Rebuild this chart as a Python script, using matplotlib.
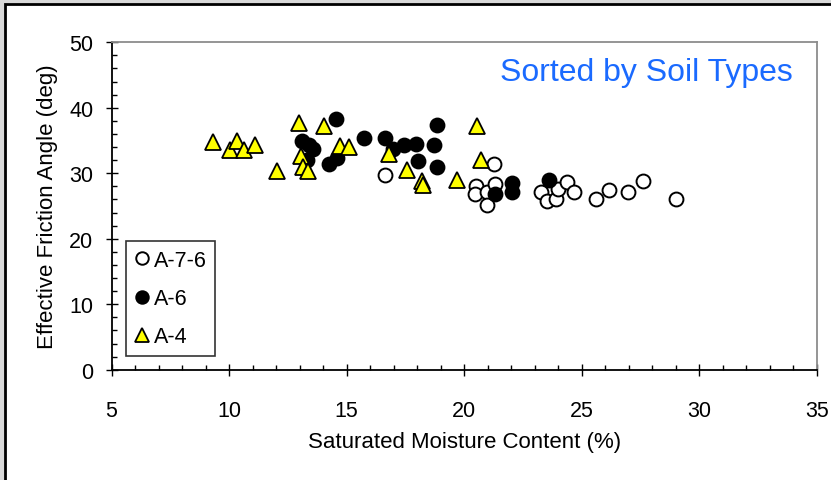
import matplotlib
matplotlib.use("Agg")
import matplotlib.pyplot as plt
from matplotlib.patches import Rectangle
from matplotlib.ticker import MultipleLocator

plt.rcParams['font.family'] = ['Liberation Sans', 'DejaVu Sans']

# A-7-6 (open circles)
a76_x = [16.65, 21.25, 20.5, 20.45, 20.95, 21.3, 20.95, 23.25, 23.5, 23.9, 24.0, 24.35, 24.65, 25.6, 26.15, 26.95, 27.6, 29.0]
a76_y = [29.8, 31.4, 28.0, 26.8, 27.1, 28.4, 25.1, 27.1, 25.8, 26.0, 27.6, 28.6, 27.2, 26.0, 27.4, 27.2, 28.8, 26.0]

# A-6 (filled circles)
a6_x = [13.1, 13.4, 13.55, 13.3, 14.25, 14.6, 14.55, 15.75, 16.65, 16.95, 17.45, 17.95, 18.05, 18.7, 18.85, 18.85, 21.3, 22.05, 22.05, 23.6]
a6_y = [34.9, 34.3, 33.7, 32.0, 31.4, 32.3, 38.3, 35.4, 35.4, 33.7, 34.3, 34.5, 31.9, 34.3, 37.3, 31.0, 26.8, 28.5, 27.2, 28.9]

# A-4 (yellow triangles)
a4_x = [9.3, 10.05, 10.35, 10.65, 11.1, 12.05, 12.97, 13.05, 13.15, 13.35, 14.05, 14.7, 15.1, 16.8, 17.55, 18.2, 18.25, 19.7, 20.55, 20.7]
a4_y = [34.7, 33.6, 35.0, 33.6, 34.3, 30.3, 37.6, 32.7, 31.0, 30.3, 37.2, 34.1, 34.0, 32.9, 30.5, 28.8, 28.2, 29.0, 37.2, 32.0]

labels = ["A-7-6", "A-6", "A-4"]
x_ticks = [5, 10, 15, 20, 25, 30, 35]
y_ticks = [0, 10, 20, 30, 40, 50]

fig = plt.figure(figsize=(8.31, 4.81), dpi=100)
fig.patch.set_facecolor('#d9d9d9')
bg = Rectangle((5/831, -0.02), 1.0, 1 - 5/481 + 0.02, transform=fig.transFigure,
               facecolor='white', edgecolor='black', lw=2, zorder=-10)
fig.add_artist(bg)

ax = fig.add_axes([111.5/831, 1 - 370.7/481, (817 - 111.5)/831, (370.7 - 43.3)/481])
ax.set_facecolor('white')

ax.plot(a76_x, a76_y, 'o', ms=10, mfc='white', mec='black', mew=1.4, label=labels[0], zorder=3)
ax.plot(a6_x, a6_y, 'o', ms=10, mfc='black', mec='black', mew=1.4, label=labels[1], zorder=4)
ax.plot(a4_x, a4_y, '^', ms=11.5, mfc='#ffff00', mec='black', mew=1.3, label=labels[2], zorder=5)

ax.set_xlim(5, 35)
ax.set_ylim(0, 50)
ax.set_xticks(x_ticks)
ax.set_yticks(y_ticks)
ax.xaxis.set_minor_locator(MultipleLocator(1))
ax.yaxis.set_minor_locator(MultipleLocator(2))
ax.tick_params(which='major', direction='inout', length=8, width=1, labelsize=15.5, color='black')
ax.tick_params(axis='x', which='major', pad=18)
ax.tick_params(axis='y', which='major', pad=9)
ax.tick_params(which='minor', direction='in', length=3.5, width=1, color='black')
ax.tick_params(top=False, right=False, which='both')

for s in ['left', 'bottom']:
    ax.spines[s].set_color('black')
    ax.spines[s].set_linewidth(1.3)
for s in ['top', 'right']:
    ax.spines[s].set_color('#8c8c8c')
    ax.spines[s].set_linewidth(1.3)

ax.set_xlabel('Saturated Moisture Content (%)', fontsize=16)
ax.set_ylabel('Effective Friction Angle (deg)', fontsize=16)
ax.xaxis.set_label_coords(0.5, -0.188)
ax.yaxis.set_label_coords(-0.076, 0.5)

ax.text(0.966, 0.909, 'Sorted by Soil Types', transform=ax.transAxes, ha='right', va='center',
        fontsize=23, color='#1a6aff')

leg = ax.legend(loc='lower left', bbox_to_anchor=(0.02, 0.042), fontsize=15.5, frameon=True,
                fancybox=False, edgecolor='black', labelspacing=0.8, handlelength=0.7,
                handletextpad=0.2, borderpad=0.4, markerscale=0.9, borderaxespad=0)
leg.get_frame().set_linewidth(1.2)

fig.savefig('out.png', dpi=100, facecolor=fig.get_facecolor())
